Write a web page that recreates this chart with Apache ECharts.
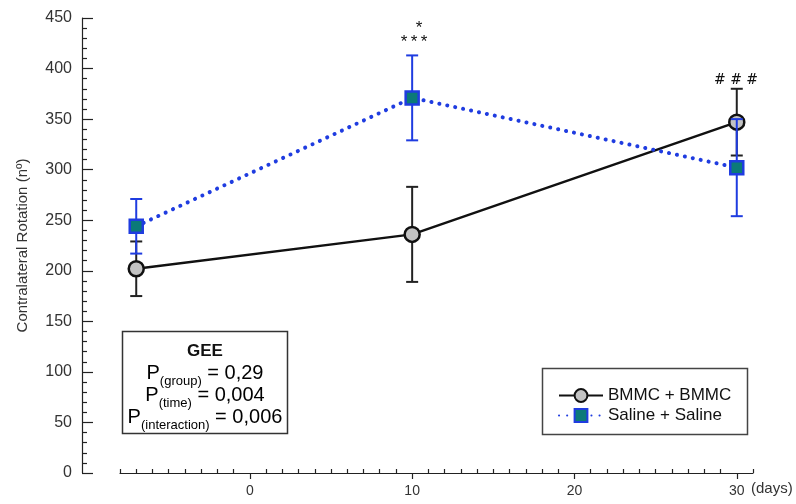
<!DOCTYPE html>
<html>
<head>
<meta charset="utf-8">
<script src="https://cdn.jsdelivr.net/npm/echarts@6.0.0/dist/echarts.min.js"></script>
<style>html,body{margin:0;padding:0;background:#fff}#c{width:796px;height:504px}</style>
</head>
<body>
<div id="c"></div>
<script>
// ---- data ----
const days = [-7, 10, 30];
const bmmcMean = [202, 236, 347];
const bmmcErr = [27, 47, 33];
const salineMean = [244, 371, 302];
const salineErr = [27, 42, 48];
const xTickLabels = [0, 10, 20, 30];
const xMinorTicks = [];
for (let v = -8; v <= 31; v++) { if (v % 10 !== 0) xMinorTicks.push(v); }
const seriesNames = ['BMMC + BMMC', 'Saline + Saline'];

const BLUE = '#1f3ce0';
const TEAL = '#0b7a78';
const FONT = 'Liberation Sans, Arial, sans-serif';

function errData(m, e) { return days.map((d, i) => [d, m[i] - e[i], m[i] + e[i]]); }
function errRender(color) {
  return function (params, api) {
    const x = api.value(0), lo = api.value(1), hi = api.value(2);
    const p1 = api.coord([x, hi]), p2 = api.coord([x, lo]);
    const w = 6;
    const st = { stroke: color, lineWidth: 2 };
    return { type: 'group', children: [
      { type: 'line', shape: { x1: p1[0], y1: p1[1], x2: p2[0], y2: p2[1] }, style: st },
      { type: 'line', shape: { x1: p1[0] - w, y1: p1[1], x2: p1[0] + w, y2: p1[1] }, style: st },
      { type: 'line', shape: { x1: p2[0] - w, y1: p2[1], x2: p2[0] + w, y2: p2[1] }, style: st }
    ]};
  };
}

const chart = echarts.init(document.getElementById('c'), null, { renderer: 'canvas' });
const mainStyle = { fontFamily: FONT, fontSize: 20, color: '#111', lineHeight: 22, verticalAlign: 'middle' };
const subStyle = { fontFamily: FONT, fontSize: 13, color: '#111', verticalAlign: 'bottom', height: 6 };

chart.setOption({
  animation: false,
  backgroundColor: '#fff',
  grid: { left: 120, right: 43, top: 18, bottom: 31 },
  xAxis: [{
    type: 'value', min: -8, max: 31,
    axisLine: { show: true, onZero: false, lineStyle: { color: '#222', width: 1.2 } },
    axisTick: { show: true, customValues: xTickLabels, length: 6, inside: false, lineStyle: { color: '#222', width: 1.2 } },
    axisLabel: { customValues: xTickLabels, color: '#333', fontSize: 14, fontFamily: FONT, margin: 11 },
    splitLine: { show: false }
  }, {
    type: 'value', min: -8, max: 31, position: 'bottom',
    axisLine: { show: false, onZero: false },
    axisTick: { show: true, customValues: xMinorTicks, length: 4, inside: true, lineStyle: { color: '#222', width: 1.2 } },
    axisLabel: { show: false },
    splitLine: { show: false }
  }],
  yAxis: {
    type: 'value', min: 0, max: 450, interval: 50, offset: 38,
    name: 'Contralateral Rotation (nº)', nameLocation: 'middle', nameGap: 52,
    nameTextStyle: { fontSize: 15, color: '#333', fontFamily: FONT },
    axisLine: { show: true, onZero: false, lineStyle: { color: '#222', width: 1.2 } },
    axisTick: { show: true, inside: true, length: 11, lineStyle: { color: '#222', width: 1.2 } },
    minorTick: { show: true, splitNumber: 5, length: 5, lineStyle: { color: '#222', width: 1.2 } },
    axisLabel: { color: '#333', fontSize: 16, fontFamily: FONT, margin: 10 },
    splitLine: { show: false }
  },
  legend: {
    orient: 'vertical', left: 553, top: 382, itemWidth: 44, itemHeight: 16, itemGap: 3,
    textStyle: { fontSize: 17, color: '#111', fontFamily: FONT },
    data: seriesNames
  },
  series: [
    { type: 'custom', name: 'bmmcErr', renderItem: errRender('#222'), data: errData(bmmcMean, bmmcErr), encode: { x: 0, y: [1, 2] }, z: 2 },
    { type: 'line', name: seriesNames[0], data: days.map((d, i) => [d, bmmcMean[i]]),
      symbol: 'circle', symbolSize: 15,
      lineStyle: { color: '#111', width: 2.5 },
      itemStyle: { color: '#c3c3c3', borderColor: '#111', borderWidth: 2.5 }, z: 3 },
    { type: 'custom', name: 'salErr', renderItem: errRender(BLUE), data: errData(salineMean, salineErr), encode: { x: 0, y: [1, 2] }, z: 4 },
    { type: 'line', name: seriesNames[1], data: days.map((d, i) => [d, salineMean[i]]),
      symbol: 'rect', symbolSize: 13,
      lineStyle: { color: BLUE, width: 4, type: [0.1, 8], cap: 'round' },
      itemStyle: { color: TEAL, borderColor: BLUE, borderWidth: 2.5 }, z: 5 }
  ],
  graphic: [
    { type: 'text', left: 751, top: 481, style: { text: '(days)', fontSize: 15, fontFamily: FONT, fill: '#333' } },
    { type: 'text', x: 419, y: 28, style: { text: '*', fontSize: 17, fontFamily: FONT, fill: '#111', align: 'center', verticalAlign: 'middle' } },
    { type: 'text', x: 414, y: 42, style: { text: '*\u2009*\u2009*', fontSize: 17, fontFamily: FONT, fill: '#111', align: 'center', verticalAlign: 'middle' } },
    { type: 'text', x: 736, y: 80, style: { text: '# # #', fontSize: 14, fontFamily: 'DejaVu Serif, serif', fill: '#111', align: 'center', verticalAlign: 'middle' } },
    { type: 'rect', shape: { x: 122.5, y: 331.5, width: 165, height: 102 }, style: { fill: '#fff', stroke: '#333', lineWidth: 1.5 }, z: 10 },
    { type: 'text', x: 205, y: 351, z: 11, style: { text: 'GEE', fontSize: 17, fontWeight: 'bold', fontFamily: FONT, fill: '#111', align: 'center', verticalAlign: 'middle' } },
    { type: 'text', x: 205, y: 395, z: 11, style: {
        text: '{p|P}{s|(group)}{p| = 0,29}\n{p|P}{s|(time)}{p| = 0,004}\n{p|P}{s|(interaction)}{p| = 0,006}',
        align: 'center', verticalAlign: 'middle',
        rich: { p: mainStyle, s: subStyle } } },
    { type: 'rect', shape: { x: 542.5, y: 368.5, width: 205, height: 66 }, style: { fill: 'none', stroke: '#444', lineWidth: 1.5 }, z: 10 }
  ]
});
</script>
</body>
</html>
